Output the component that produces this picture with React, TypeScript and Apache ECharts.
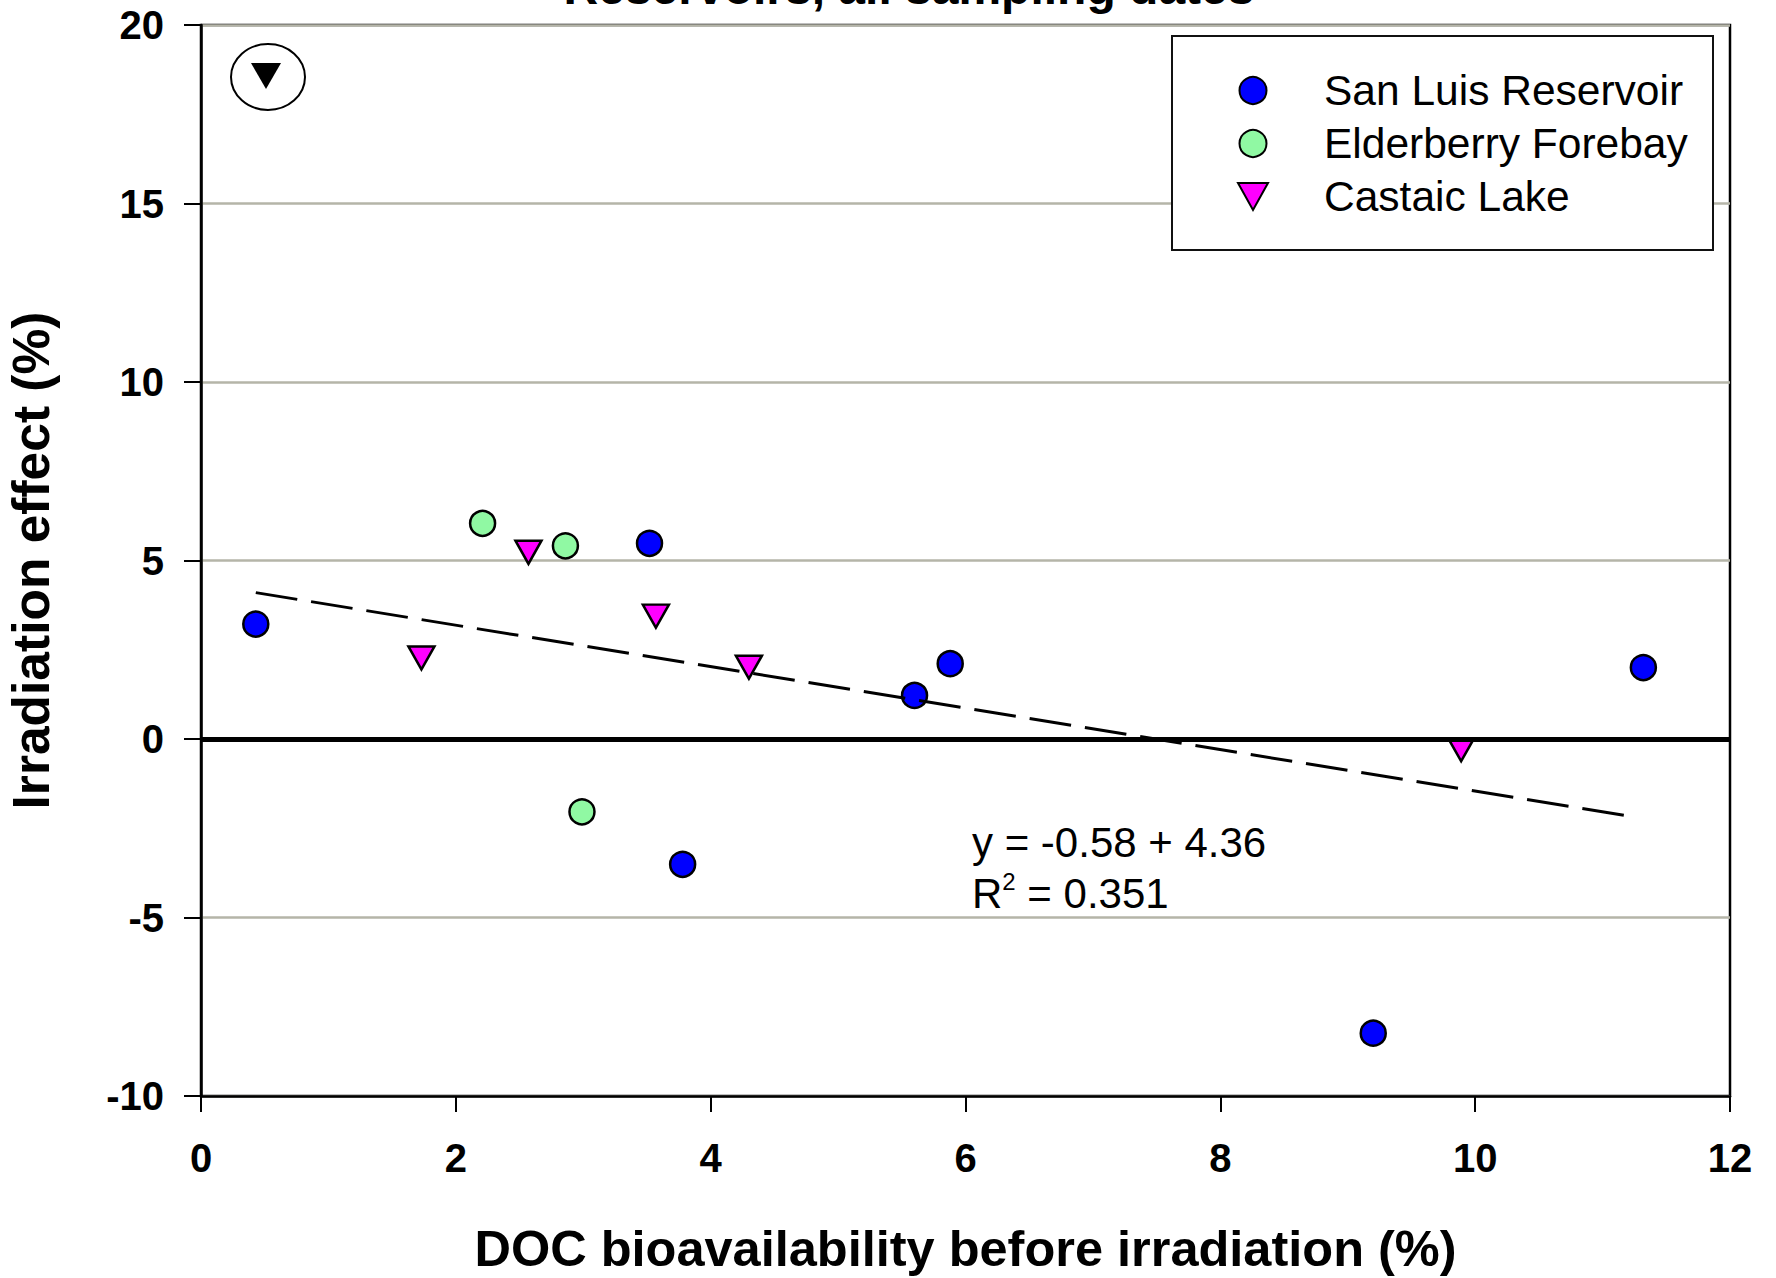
import React, { useEffect, useRef } from "react";
import * as echarts from "echarts";

// ---- data ----
const sanLuisX = [0.43, 3.52, 5.6, 5.88, 3.78, 9.2, 11.32];
const sanLuisY = [3.22, 5.48, 1.22, 2.11, -3.51, -8.24, 2.0];
const elderberryX = [2.21, 2.86, 2.99];
const elderberryY = [6.04, 5.41, -2.04];
const castaicX = [1.73, 2.57, 3.57, 4.3, 9.89];
const castaicY = [2.27, 5.23, 3.44, 2.01, -0.3];
// regression line end points (y = -0.58x + 4.36)
const trendX = [0.43, 11.26];
const trendY = [4.1, -2.19];

const seriesNames = ["San Luis Reservoir", "Elderberry Forebay", "Castaic Lake"];
const xMin = 0, xMax = 12, xStep = 2;
const yMin = -10, yMax = 20, yStep = 5;

const titleText = "Reservoirs, all sampling dates";
const xName = "DOC bioavailability before irradiation (%)";
const yName = "Irradiation effect (%)";
const eqLine1 = "y = -0.58 + 4.36";
const eqLine2R = "R";
const eqLine2Sup = "2";
const eqLine2Rest = " = 0.351";

const FONT = "'Liberation Sans', Arial, Helvetica, sans-serif";
const TRI_DOWN = "path://M0,0L30,0L15,27Z";

const pairs = (xs: number[], ys: number[]) => xs.map((x, i) => [x, ys[i]]);

export default function App() {
  const ref = useRef<HTMLDivElement>(null);

  useEffect(() => {
    if (!ref.current) return;
    const chart = echarts.init(ref.current, null, { renderer: "svg" });

    const markerBorder = { borderColor: "#000", borderWidth: 2.5, opacity: 1 };

    chart.setOption({
      animation: false,
      backgroundColor: "#ffffff",
      textStyle: { fontFamily: FONT },
      grid: {
        left: 201,
        right: 46,
        top: 25,
        bottom: 182,
        outerBoundsMode: "none",
        containLabel: false,
        show: true,
        borderColor: "#000",
        borderWidth: 2.5,
        backgroundColor: "transparent",
      },
      legend: {
        orient: "vertical",
        left: 1237,
        top: 69,
        padding: 0,
        itemGap: 10,
        itemWidth: 132,
        itemHeight: 27,
        selectedMode: false,
        data: [
          { name: seriesNames[0] },
          { name: seriesNames[1] },
          { name: seriesNames[2], icon: TRI_DOWN },
        ],
        textStyle: { fontFamily: FONT, fontSize: 42.5, color: "#000" },
      },
      xAxis: {
        type: "value",
        min: xMin,
        max: xMax,
        interval: xStep,
        name: xName,
        nameLocation: "middle",
        nameGap: 127,
        nameTextStyle: { fontFamily: FONT, fontSize: 50.5, fontWeight: "bold", color: "#000" },
        axisLine: { show: true, onZero: false, lineStyle: { color: "#000", width: 2.5 } },
        axisTick: { show: true, inside: false, length: 16, lineStyle: { color: "#000", width: 2 } },
        axisLabel: { margin: 42, fontFamily: FONT, fontSize: 40, fontWeight: "bold", color: "#000" },
        splitLine: { show: false },
      },
      yAxis: {
        type: "value",
        min: yMin,
        max: yMax,
        interval: yStep,
        name: yName,
        nameLocation: "middle",
        nameGap: 144,
        nameTextStyle: { fontFamily: FONT, fontSize: 51.5, fontWeight: "bold", color: "#000" },
        axisLine: { show: true, onZero: false, lineStyle: { color: "#000", width: 2.5 } },
        axisTick: { show: true, inside: false, length: 17, lineStyle: { color: "#000", width: 2 } },
        axisLabel: { margin: 37, fontFamily: FONT, fontSize: 40, fontWeight: "bold", color: "#000" },
        splitLine: { show: true, lineStyle: { color: "#b5b5a8", width: 2.5 } },
      },
      graphic: [
        {
          type: "rect",
          z: 3,
          shape: { x: 1172, y: 36, width: 541, height: 214 },
          style: { fill: "#fff", stroke: "#111", lineWidth: 2 },
        },
        {
          type: "ellipse",
          z: 3,
          shape: { cx: 268, cy: 77, rx: 37, ry: 33 },
          style: { fill: "none", stroke: "#000", lineWidth: 2 },
        },
        {
          type: "polygon",
          z: 3,
          shape: { points: [[251, 63], [281, 63], [266, 89]] },
          style: { fill: "#000" },
        },
        {
          type: "text",
          z: 3,
          x: 909,
          y: -13,
          style: {
            text: titleText,
            fontFamily: FONT,
            fontSize: 48,
            fontWeight: "bold",
            fill: "#000",
            align: "center",
            verticalAlign: "middle",
          },
        },
        {
          type: "text",
          z: 3,
          x: 972,
          y: 842,
          style: {
            text: eqLine1,
            fontFamily: FONT,
            fontSize: 42,
            fill: "#000",
            align: "left",
            verticalAlign: "middle",
          },
        },
        {
          type: "text",
          z: 3,
          x: 972,
          y: 893,
          style: {
            text: `{a|${eqLine2R}}{s|${eqLine2Sup}}{a|${eqLine2Rest}}`,
            fontFamily: FONT,
            fontSize: 42,
            fill: "#000",
            align: "left",
            verticalAlign: "middle",
            rich: {
              a: { fontFamily: FONT, fontSize: 42, fill: "#000" },
              s: { fontFamily: FONT, fontSize: 24, fill: "#000", padding: [0, 0, 24, 0] },
            },
          },
        },
      ],
      series: [
        {
          name: seriesNames[0],
          type: "scatter",
          z: 2,
          symbol: "circle",
          symbolSize: 25,
          itemStyle: { color: "#0000ff", ...markerBorder },
          data: pairs(sanLuisX, sanLuisY),
        },
        {
          name: seriesNames[1],
          type: "scatter",
          z: 2,
          symbol: "circle",
          symbolSize: 25,
          itemStyle: { color: "#90f9a3", ...markerBorder },
          data: pairs(elderberryX, elderberryY),
        },
        {
          name: seriesNames[2],
          type: "scatter",
          z: 2,
          symbol: TRI_DOWN,
          symbolSize: [26, 23],
          itemStyle: { color: "#ff00ff", ...markerBorder },
          data: pairs(castaicX, castaicY),
        },
        {
          name: "Regression",
          type: "line",
          z: 5,
          silent: true,
          symbol: "none",
          showSymbol: false,
          lineStyle: { color: "#000", width: 3, type: [42, 14] },
          data: pairs(trendX, trendY),
          markLine: {
            silent: true,
            symbol: ["none", "none"],
            label: { show: false },
            lineStyle: { color: "#000", width: 5, type: "solid" },
            data: [{ yAxis: 0 }],
          },
        },
      ],
    });

    return () => chart.dispose();
  }, []);

  return (
    <div
      ref={ref}
      style={{ position: "fixed", left: 0, top: 0, width: "1776px", height: "1278px" }}
    />
  );
}
